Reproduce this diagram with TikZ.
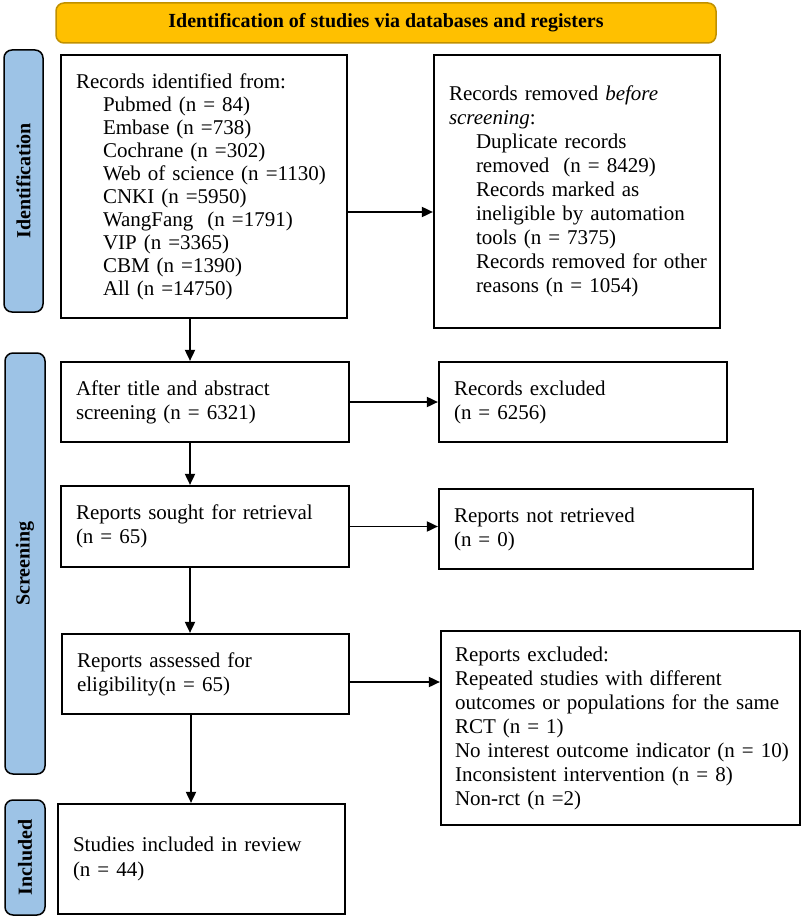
\documentclass[tikz,border=0pt]{standalone}
\usepackage{fontspec}
\setmainfont{Liberation Serif}
\usetikzlibrary{arrows.meta}
\definecolor{titleorange}{HTML}{FFC000}
\definecolor{titleborder}{HTML}{C09000}
\definecolor{barblue}{HTML}{9DC3E6}
\begin{document}
\begin{tikzpicture}[x=1pt,y=-1pt,
  box/.style={draw=black, line width=2.2pt, rectangle, inner xsep=15pt, inner ysep=0pt,
    align=left, font=\fontsize{21}{24}\selectfont, anchor=center},
  bar/.style={draw=black, line width=1.5pt, fill=barblue, rounded corners=8pt, rotate=90,
    font=\fontsize{20}{24}\selectfont\bfseries, inner sep=0pt},
  titlebox/.style={draw=titleborder, line width=1.5pt, fill=titleorange, rounded corners=8pt,
    font=\fontsize{20}{24}\selectfont\bfseries, inner sep=0pt},
  arr/.style={line width=1.8pt, -{Triangle[length=11pt,width=10pt]}}
]
\useasboundingbox (0,0) rectangle (803,920);

% title
\node[titlebox, minimum width=660pt, minimum height=40pt] (title) at (386,23)
  {Identification of studies via databases and registers};

% side bars
\node[bar, minimum width=262pt, minimum height=39pt] (idbar) at (23.5,181) {Identification};
\node[bar, minimum width=421pt, minimum height=40pt] (scrbar) at (25,563.5) {Screening};
\node[bar, minimum width=115pt, minimum height=40pt] (incbar) at (25,857.5) {Included};

% boxes
\node[box, minimum width=286pt, minimum height=263pt, text width=256pt,
  font=\fontsize{21}{23}\selectfont] (rid) at (204,186.5)
  {\mbox{Records identified from:}\\
   \mbox{\hspace*{27pt}Pubmed (n = 84)}\\
   \mbox{\hspace*{27pt}Embase (n =738)}\\
   \mbox{\hspace*{27pt}Cochrane (n =302)}\\
   \mbox{\hspace*{27pt}Web of science (n =1130)}\\
   \mbox{\hspace*{27pt}CNKI (n =5950)}\\
   \mbox{\hspace*{27pt}WangFang\ \ (n =1791)}\\
   \mbox{\hspace*{27pt}VIP (n =3365)}\\
   \mbox{\hspace*{27pt}CBM (n =1390)}\\
   \mbox{\hspace*{27pt}All (n =14750)}};

\node[box, minimum width=286pt, minimum height=273pt, text width=256pt] (rrem) at (577,191.5)
  {\mbox{Records removed \textit{before}}\\
   \mbox{\textit{screening}:}\\
   \mbox{\hspace*{27pt}Duplicate records}\\
   \mbox{\hspace*{27pt}removed\ \ (n = 8429)}\\
   \mbox{\hspace*{27pt}Records marked as}\\
   \mbox{\hspace*{27pt}ineligible by automation}\\
   \mbox{\hspace*{27pt}tools (n = 7375)}\\
   \mbox{\hspace*{27pt}Records removed for other}\\
   \mbox{\hspace*{27pt}reasons (n = 1054)}};

\node[box, minimum width=288pt, minimum height=80pt, text width=258pt] (after) at (205,402)
  {After title and abstract\\ screening (n = 6321)};
\node[box, minimum width=288pt, minimum height=80pt, text width=258pt] (rexcl) at (583,402)
  {Records excluded\\ (n = 6256)};

\node[box, minimum width=288pt, minimum height=81pt, text width=258pt] (sought) at (205,526.5)
  {Reports sought for retrieval\\ (n = 65)};
\node[box, minimum width=314pt, minimum height=80pt, text width=284pt] (notret) at (596,529)
  {Reports not retrieved\\ (n = 0)};

\node[box, minimum width=287pt, minimum height=80pt, text width=257pt] (assessed) at (205.5,674)
  {Reports assessed for\\ eligibility(n = 65)};
\node[box, minimum width=359pt, minimum height=194pt, text width=331pt, inner xsep=14pt] (repexcl) at (620.5,728)
  {\mbox{Reports excluded:}\\
   \mbox{Repeated studies with different}\\
   \mbox{outcomes or populations for the same}\\
   \mbox{RCT (n = 1)}\\
   \mbox{No interest outcome indicator (n = 10)}\\
   \mbox{Inconsistent intervention (n = 8)}\\
   \mbox{Non-rct (n =2)}};

\node[box, minimum width=287pt, minimum height=110pt, text width=257pt,
  font=\fontsize{21}{25}\selectfont] (included) at (201.5,859)
  {Studies included in review\\ (n = 44)};

% helper coordinates
\coordinate (ya) at (0,212);
\coordinate (yb) at (0,682);
\coordinate (xa) at (190,0);
\coordinate (xb) at (191,0);

% connectors
\draw[arr] (rid.east |- ya) -- (rrem.west |- ya);
\draw[arr] (rid.south -| xa) -- (after.north -| xa);
\draw[arr] (after.east) -- (rexcl.west |- after.east);
\draw[arr] (after.south -| xa) -- (sought.north -| xa);
\draw[arr] (sought.east) -- (notret.west |- sought.east);
\draw[arr] (sought.south -| xa) -- (assessed.north -| xa);
\draw[arr] (assessed.east |- yb) -- (repexcl.west |- yb);
\draw[arr] (assessed.south -| xb) -- (included.north -| xb);
\end{tikzpicture}
\end{document}
